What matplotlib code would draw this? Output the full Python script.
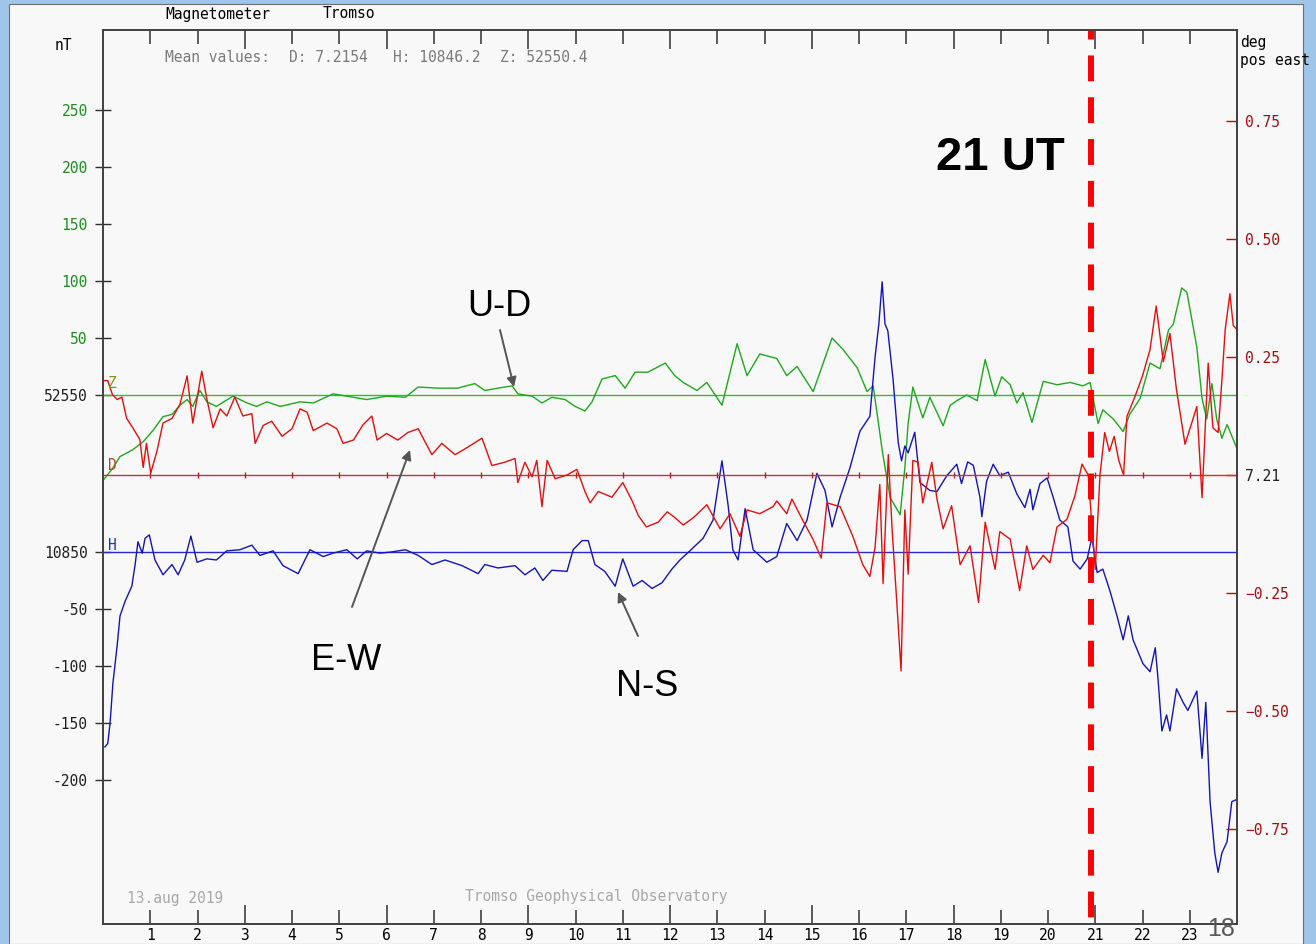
import matplotlib.pyplot as plt
from matplotlib.patches import Rectangle

W, H = 1316, 944

# Z (vertical, green): hour UT, deviation from 52550 nT
z_hours = [0.02, 0.21, 0.36, 0.63, 0.85, 1.06, 1.27, 1.46, 1.63, 1.78, 1.90, 2.05, 2.2, 2.4,
           2.75, 3.05, 3.25, 3.47, 3.75, 4.17, 4.45, 4.87, 5.3, 5.58, 6.0, 6.4, 6.67, 7.09,
           7.5, 7.87, 8.08, 8.36, 8.66, 8.78, 9.08, 9.29, 9.5, 9.78, 9.99, 10.2, 10.35,
           10.56, 10.84, 11.05, 11.26, 11.53, 11.9, 12.1, 12.28, 12.57, 12.78, 13.1, 13.42,
           13.63, 13.9, 14.26, 14.47, 14.69, 15.03, 15.43, 15.66, 15.96, 16.17, 16.3, 16.5,
           16.66, 16.87, 16.97, 17.04, 17.14, 17.35, 17.5, 17.78, 17.93, 18.07, 18.28, 18.5,
           18.67, 18.88, 19.02, 19.2, 19.34, 19.47, 19.66, 19.9, 20.19, 20.47, 20.74, 20.89,
           21.06, 21.16, 21.38, 21.59, 21.73, 21.95, 22.16, 22.37, 22.55, 22.65, 22.83,
           22.94, 23.15, 23.26, 23.36, 23.47, 23.57, 23.68, 23.79, 24.0]
z_dev = [-74, -64, -54, -48, -41, -31, -19, -17, -9, -4, -10, 4, -6, -10,
         -1, -7, -10, -6, -10, -6, -7, 1, -2, -4, -1, -2, 7, 6,
         6, 10, 4, 6, 8, 1, -1, -7, -2, -4, -10, -14, -6,
         14, 17, 6, 20, 20, 28, 17, 11, 4, 11, -9, 45,
         17, 36, 32, 17, 25, 3, 50, 40, 24, 3, 8, -51,
         -90, -105, -64, -25, 7, -20, -2, -27, -9, -5, 0, -5,
         31, -1, 16, 9, -7, 2, -24, 12, 9, 11, 8, 11,
         -25, -13, -21, -32, -17, -3, 28, 23, 57, 62, 94,
         90, 42, -3, -21, 10, -21, -38, -26, -47]

# D (declination, red): hour UT, deviation from 7.21 deg
d_hours = [0.02, 0.1, 0.2, 0.3, 0.4, 0.5, 0.63, 0.78, 0.85, 0.92, 1.01, 1.14, 1.27, 1.46,
           1.63, 1.78, 1.90, 2.09, 2.2, 2.33, 2.48, 2.62, 2.79, 2.96, 3.15, 3.22, 3.39,
           3.57, 3.79, 4.0, 4.17, 4.32, 4.45, 4.74, 4.95, 5.08, 5.3, 5.5, 5.69, 5.8, 6.0,
           6.24, 6.45, 6.67, 6.96, 7.17, 7.45, 7.72, 8.02, 8.23, 8.5, 8.72, 8.78, 8.93,
           9.08, 9.18, 9.29, 9.4, 9.57, 9.82, 10.03, 10.2, 10.31, 10.48, 10.77, 11.0, 11.2,
           11.33, 11.5, 11.75, 11.94, 12.1, 12.28, 12.5, 12.78, 13.06, 13.27, 13.48, 13.63,
           13.9, 14.18, 14.26, 14.47, 14.58, 14.82, 15.03, 15.2, 15.32, 15.6, 15.87, 16.08,
           16.23, 16.34, 16.44, 16.51, 16.62, 16.7, 16.8, 16.89, 16.97, 17.04, 17.14, 17.25,
           17.35, 17.54, 17.65, 17.78, 17.96, 18.14, 18.35, 18.53, 18.67, 18.88, 18.98,
           19.2, 19.4, 19.55, 19.68, 19.9, 20.04, 20.19, 20.4, 20.57, 20.72, 20.85, 21.0,
           21.1, 21.2, 21.3, 21.4, 21.5, 21.6, 21.67, 21.84, 22.0, 22.16, 22.29, 22.44,
           22.58, 22.72, 22.9, 23.15, 23.26, 23.39, 23.49, 23.6, 23.68, 23.75, 23.85,
           23.92, 24.0]
d_dev = [0.20, 0.20, 0.17, 0.16, 0.165, 0.12, 0.10, 0.075, 0.016, 0.067, 0.004, 0.05, 0.11, 0.12,
         0.15, 0.21, 0.11, 0.22, 0.16, 0.10, 0.14, 0.125, 0.165, 0.125, 0.13, 0.067, 0.105,
         0.114, 0.082, 0.098, 0.14, 0.133, 0.094, 0.11, 0.098, 0.067, 0.074, 0.106, 0.125, 0.074, 0.088,
         0.074, 0.09, 0.098, 0.043, 0.067, 0.043, 0.059, 0.078, 0.02, 0.027, 0.035, -0.016, 0.027,
         -0.004, 0.031, -0.067, 0.031, -0.008, 0.0, 0.012, -0.035, -0.059, -0.035, -0.047, -0.016, -0.055,
         -0.086, -0.11, -0.10, -0.078, -0.09, -0.106, -0.09, -0.063, -0.114, -0.082, -0.13, -0.074,
         -0.082, -0.067, -0.055, -0.082, -0.051, -0.098, -0.137, -0.176, -0.059, -0.067, -0.13, -0.19,
         -0.215, -0.153, -0.02, -0.23, 0.043, -0.114, -0.27, -0.415, -0.074, -0.21, 0.031, 0.027,
         -0.059, 0.027, -0.051, -0.114, -0.065, -0.19, -0.15, -0.27, -0.10, -0.2, -0.12,
         -0.136, -0.245, -0.15, -0.2, -0.17, -0.186, -0.11, -0.094, -0.044, 0.023, 0.0, -0.2,
         0.0, 0.09, 0.05, 0.082, 0.03, 0.0, 0.124, 0.166, 0.21, 0.266, 0.358, 0.24,
         0.30, 0.18, 0.065, 0.145, -0.048, 0.237, 0.1, 0.09, 0.2, 0.308, 0.384,
         0.317, 0.308]

# H (horizontal, blue): hour UT, deviation from 10850 nT
h_hours = [0.04, 0.1, 0.15, 0.21, 0.3, 0.36, 0.47, 0.61, 0.68, 0.74, 0.83, 0.89, 0.98, 1.1,
           1.27, 1.46, 1.59, 1.73, 1.86, 1.99, 2.2, 2.4, 2.62, 2.9, 3.15, 3.32, 3.6, 3.81,
           4.13, 4.38, 4.66, 4.87, 5.16, 5.38, 5.58, 5.86, 6.1, 6.4, 6.67, 6.96, 7.24, 7.6,
           7.94, 8.08, 8.36, 8.72, 8.93, 9.14, 9.31, 9.5, 9.82, 9.95, 10.14, 10.27, 10.41,
           10.62, 10.84, 11.0, 11.22, 11.41, 11.62, 11.83, 12.04, 12.21, 12.42, 12.7, 12.91,
           13.1, 13.23, 13.33, 13.44, 13.59, 13.76, 14.05, 14.26, 14.47, 14.69, 14.9, 15.11,
           15.28, 15.43, 15.6, 15.81, 16.02, 16.23, 16.34, 16.42, 16.49, 16.55, 16.61, 16.72,
           16.83, 16.9, 16.97, 17.04, 17.18, 17.29, 17.5, 17.65, 17.86, 18.07, 18.17, 18.3,
           18.42, 18.56, 18.6, 18.7, 18.84, 18.98, 19.16, 19.34, 19.51, 19.62, 19.68, 19.83,
           19.98, 20.11, 20.25, 20.42, 20.53, 20.68, 20.83, 20.93, 21.04, 21.16, 21.31, 21.46,
           21.59, 21.7, 21.8, 22.01, 22.16, 22.27, 22.33, 22.41, 22.51, 22.58, 22.72, 22.86,
           22.96, 23.15, 23.26, 23.34, 23.43, 23.53, 23.6, 23.68, 23.79, 23.89, 24.0]
h_dev = [-171, -168, -150, -115, -82, -56, -43, -30, -11, 9, -1, 12, 15, -7,
         -20, -11, -20, -7, 14, -9, -6, -7, 1, 2, 6, -3, 1, -12,
         -19, 2, -4, -1, 2, -6, 1, -1, 0, 2, -3, -11, -7, -12,
         -19, -11, -14, -12, -20, -14, -25, -16, -17, 2, 10, 10, -11,
         -17, -30, -6, -30, -25, -32, -27, -15, -7, 1, 12, 28,
         80, 41, 2, -7, 38, 2, -9, -4, 25, 10, 28, 69,
         54, 22, 48, 74, 106, 119, 171, 200, 237, 200, 194, 152,
         96, 80, 93, 87, 105, 61, 54, 53, 67, 77, 60, 79,
         76, 48, 31, 62, 77, 67, 70, 51, 39, 55, 37, 60,
         65, 48, 28, 22, -8, -15, -6, 13, -18, -15, -34, -56,
         -77, -56, -77, -98, -105, -84, -112, -157, -143, -157, -120, -132,
         -139, -122, -181, -132, -219, -264, -281, -264, -254, -219, -217]

hours = list(range(1, 24))
event_hour = 20.92

nt_ticks = [250, 200, 150, 100, 50]
nt_low_ticks = [-50, -100, -150, -200]
deg_ticks = [0.75, 0.50, 0.25, 0.0, -0.25, -0.50, -0.75]
deg_labels = ['0.75', '0.50', '0.25', '7.21', '\u22120.25', '\u22120.50', '\u22120.75']

# layout of the magnetogram frame (pixels)
left, right, top, bottom = 103, 1237, 30, 924
z_base_px, h_base_px, d_base_px = 395, 552, 475
px_per_nt = 1.14
px_per_deg = 472.0
h_offset = -(h_base_px - z_base_px) / px_per_nt

mono = 'DejaVu Sans Mono'
small = 10.5


def fig_xy(x, y):
    return x / W, 1 - y / H


c_green, c_red, c_blue = '#1fa81f', '#e01010', '#1414b4'
bg = '#f8f8f8'

fig = plt.figure(figsize=(W / 100, H / 100), dpi=100)
fig.patch.set_facecolor('#9fc5e8')
fig.add_artist(Rectangle((9 / W, 0), (1303 - 9) / W, (H - 4) / H, transform=fig.transFigure,
                         facecolor=bg, edgecolor='#707070', lw=0.8, zorder=-5))

ax = fig.add_axes([left / W, 1 - bottom / H, (right - left) / W, (bottom - top) / H])
ax.set_facecolor(bg)
ax.set_xlim(0, 24)
ax.set_ylim((z_base_px - bottom) / px_per_nt, (z_base_px - top) / px_per_nt)

ax.axhline(0, color='#2cc02c', lw=1.0)
ax.axhline(h_offset, color='#2a2ac8', lw=1.0)
ax.plot(z_hours, z_dev, color=c_green, lw=1.0)
ax.plot(h_hours, [v + h_offset for v in h_dev], color=c_blue, lw=1.0)

ax2 = ax.twinx()
ax2.set_ylim((d_base_px - bottom) / px_per_deg, (d_base_px - top) / px_per_deg)
ax2.axhline(0, color='#d03030', lw=1.0)
ax2.plot(hours, [0] * len(hours), ls='none', marker='|', ms=4, mew=1.0, color='#c02020')
ax2.plot(d_hours, d_dev, color=c_red, lw=1.0)
ax2.axvline(event_hour, color='#ff0000', lw=4.3, ls=(5.9, (4.33, 2.67)))

for a in (ax, ax2):
    for s in a.spines.values():
        s.set_color('#404040')
        s.set_linewidth(1.2)

# x axis: hours, long ticks every 3 h
major = [h for h in hours if h % 3 == 0]
minor = [h for h in hours if h % 3 != 0]
ax.set_xticks(major)
ax.set_xticklabels([str(h) for h in major], family=mono)
ax.set_xticks(minor, minor=True)
ax.set_xticklabels([str(h) for h in minor], minor=True, family=mono)
ax.tick_params(axis='x', which='both', direction='in', top=True, colors='#303030',
               labelcolor='black', labelsize=small, pad=3, width=1.1)
ax.tick_params(axis='x', which='major', length=14)
ax.tick_params(axis='x', which='minor', length=10)

# left axis: nT relative to the Z and H baselines
ypos = nt_ticks + [0, h_offset] + [h_offset + v for v in nt_low_ticks]
ylab = [str(v) for v in nt_ticks] + ['52550', '10850'] + [str(v) for v in nt_low_ticks]
ax.set_yticks(ypos)
ax.set_yticklabels(ylab, family=mono)
ax.tick_params(axis='y', direction='inout', length=12, width=1.0, colors='#303030',
               labelsize=small, pad=5)
for lab, v in zip(ax.get_yticklabels(), ylab):
    lab.set_color('#1e8c1e' if v in [str(t) for t in nt_ticks] else '#202020')

# right axis: degrees relative to D baseline
ax2.set_yticks(deg_ticks)
ax2.set_yticklabels(deg_labels, family=mono)
ax2.tick_params(axis='y', direction='in', length=8, width=1.0, colors='#b01010',
                labelsize=small, pad=6)
for lab, v in zip(ax2.get_yticklabels(), deg_labels):
    lab.set_color('#202020' if v == '7.21' else '#a01010')

# header / footer texts
txt = dict(fontsize=small, va='center', family=mono)
fig.text(*fig_xy(165, 14), 'Magnetometer', **txt)
fig.text(*fig_xy(323, 14), 'Tromso', **txt)
fig.text(*fig_xy(55, 45), 'nT', **txt)
for x, s in [(165, 'Mean values:'), (289, 'D: 7.2154'), (393, 'H: 10846.2'), (500, 'Z: 52550.4')]:
    fig.text(*fig_xy(x, 57), s, color='#7a7a7a', **txt)
fig.text(*fig_xy(1240, 42), 'deg', **txt)
fig.text(*fig_xy(1240, 61), 'pos east', **txt)
fig.text(*fig_xy(127, 898), '13.aug 2019', color='#a8a8a8', **txt)
fig.text(*fig_xy(465, 897), 'Tromso Geophysical Observatory', color='#a8a8a8', **txt)
fig.text(*fig_xy(1207, 929), '18', fontsize=18, va='center', color='#595959',
         family='Liberation Sans')

# baseline letters
fig.text(*fig_xy(108, 383), 'Z', color='#7a9a20', **txt)
fig.text(*fig_xy(108, 465), 'D', color='#b04a20', **txt)
fig.text(*fig_xy(108, 545), 'H', color='#2030c0', **txt)

# slide annotations
fig.text(*fig_xy(1000, 158), '21 UT', fontsize=34, weight='bold', ha='center', va='center',
         family='Liberation Sans')
for label, (tx, ty), (x0, y0), (x1, y1) in [
        ('U-D', (499, 307), (500, 330), (514, 387)),
        ('E-W', (346, 660), (352, 607), (410, 450)),
        ('N-S', (647, 686), (638, 636), (618, 592))]:
    fig.text(*fig_xy(tx, ty), label, fontsize=26, ha='center', va='center',
             family='Liberation Sans')
    ax2.annotate('', xy=fig_xy(x1, y1), xytext=fig_xy(x0, y0), xycoords='figure fraction',
                 textcoords='figure fraction',
                 arrowprops=dict(arrowstyle='-|>', color='#555555', lw=1.4, mutation_scale=14,
                                 shrinkA=0, shrinkB=0))

fig.savefig('out.png', dpi=100, facecolor=fig.get_facecolor())
